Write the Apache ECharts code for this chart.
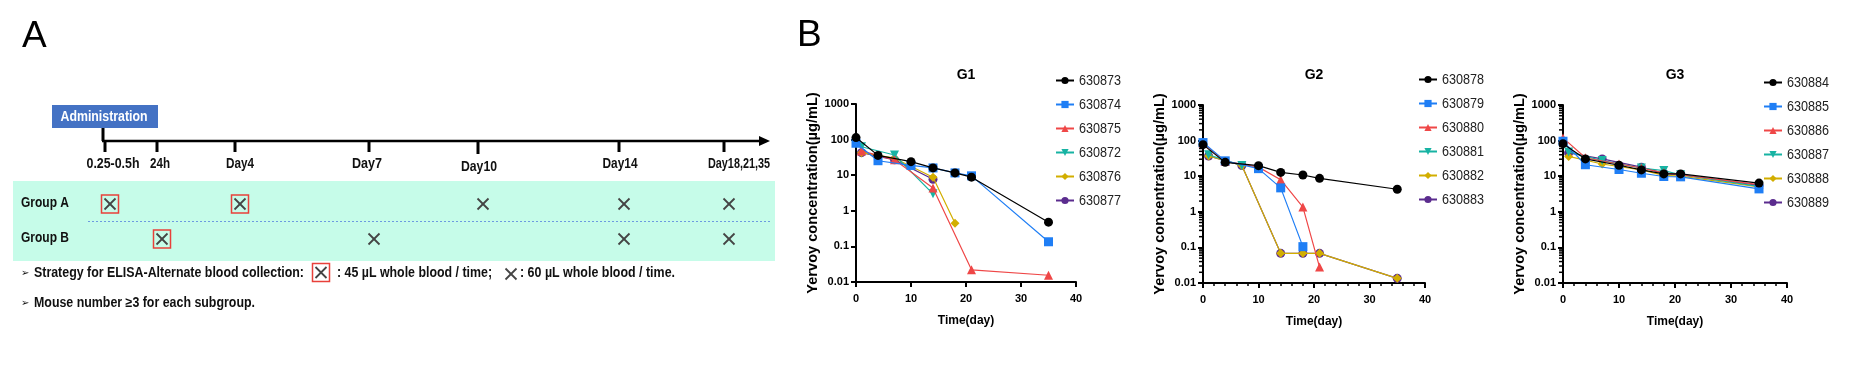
<!DOCTYPE html>
<html><head><meta charset="utf-8">
<script src="https://cdn.jsdelivr.net/npm/echarts@6/dist/echarts.min.js"></script>
<style>html,body{margin:0;padding:0;background:#fff}#c{width:1865px;height:375px}</style>
</head><body><div id="c"></div><script>
// ---------------- DATA ----------------
// Panel A schedule
const timepointLabels = ['0.25-0.5h', '24h', 'Day4', 'Day7', 'Day10', 'Day14', 'Day18,21,35'];
const groupNames = ['Group A', 'Group B'];
// '45' = boxed mark (45 µL), '60' = plain mark (60 µL), '' = no sampling
const groupASchedule = ['45', '', '45', '', '60', '60', '60'];
const groupBSchedule = ['', '45', '', '60', '', '60', '60'];
const noteLine1 = ['Strategy for ELISA-Alternate blood collection:', ': 45 µL whole blood / time;', ': 60 µL whole blood / time.'];
const noteLine2 = 'Mouse number ≥3 for each subgroup.';

// Panel B (days, concentration µg/mL)
const groupTitles = ['G1', 'G2', 'G3'];
const g1Names = ['630873', '630874', '630875', '630872', '630876', '630877'];
const g1Days = [[0,4,10,14,18,21,35],[0,4,10,14,18,21,35],[1,7,14,21,35],[1,7,14],[1,7,14,18],[1,7,14]];
const g1Conc = [[114,36,24,16,11.6,8.8,0.48],[79,25.5,18.8,16,11.6,9.6,0.135],[48,27,4.4,0.022,0.0155],[63,37,3.0],[43,30,8.8,0.45],[43,27,7.7]];
const g2Names = ['630878', '630879', '630880', '630881', '630882', '630883'];
const g2Days = [[0,4,10,14,18,21,35],[0,4,10,14,18],[0,4,10,14,18,21],[1,7],[1,7,14,18,21,35],[1,7,14,18,21,35]];
const g2Conc = [[77,24.5,19.8,12.8,10.8,8.7,4.3],[88,27,16.3,4.7,0.105],[85,26,18,8.0,1.36,0.028],[40,20],[37,20,0.068,0.068,0.068,0.0135],[37,20,0.068,0.068,0.068,0.0135]];
const g3Names = ['630884', '630885', '630886', '630887', '630888', '630889'];
const g3Days = [[0,4,10,14,18,21,35],[0,4,10,14,18,21,35],[0,4,10,14,18,21,35],[1,7,14,18,21,35],[1,7,14,18,21,35],[1,7,14,18,21,35]];
const g3Conc = [[82,30.6,20.3,15,11.6,11.6,6.4],[96,21,15.4,12.1,9.8,9.6,4.4],[119,33,22,17,12.5,11,5.8],[48,27.5,17,14.4,11,5.2],[36,22,15,10.5,10,5],[45,30.6,17.9,12,11,5.5]];
const logMinorMultipliers = [2,3,4,5,6,7,8,9];
const logDecades = [0.01, 0.1, 1, 10, 100];

// ---------------- STYLE / LAYOUT ----------------
const colors = ['#000000', '#1F7EF5', '#EF4747', '#17B3A3', '#D2AE00', '#5B2C8E'];
const symbols = ['circle', 'rect', 'triangle', 'triangle', 'diamond', 'circle'];
const symbolRot = [0, 0, 0, 180, 0, 0];
const symbolSizes = [9, 9, 9, 9, 9, 9];
const grids = [
  {left: 856, top: 104, width: 220, height: 178},
  {left: 1203, top: 105, width: 222, height: 178},
  {left: 1563, top: 105, width: 224, height: 178}
];
const legendPos = [{left: 1055, top: 73}, {left: 1418, top: 72}, {left: 1763, top: 75}];
const minorOn = [false, true, true];
const timelineX = [105, 157, 235, 369, 478, 619, 724];
const timelineLabelCx = [113, 160, 240, 367, 479, 620, 739];
const timelineLabelW = [53, 20, 28, 30, 36, 35, 62];

const groups = [
  {names: g1Names, days: g1Days, conc: g1Conc},
  {names: g2Names, days: g2Days, conc: g2Conc},
  {names: g3Names, days: g3Days, conc: g3Conc}
];
const logMinorTicks = [];
logDecades.forEach(d => logMinorMultipliers.forEach(m => logMinorTicks.push(+(d * m).toPrecision(2))));

const AX = '#000';
const numFont = '"Liberation Sans", Arial, sans-serif';

// ---------------- PANEL A helpers ----------------
const G = [];
const mctx = document.createElement('canvas').getContext('2d');
function fitText(text, x, y, size, targetW, align, fill, weight) {
  const font = (weight || 'bold') + ' ' + size + 'px ' + numFont;
  mctx.font = font;
  const w = mctx.measureText(text).width;
  G.push({type: 'text', x: x, y: y, scaleX: targetW / w, z: 10,
    style: {text: text, x: 0, y: 0, font: font, fill: fill || '#111', align: align || 'left', verticalAlign: 'middle'}});
}

const xAxes = [], yAxes = [], series = [], legends = [], titles = [];
groups.forEach((g, gi) => {
  xAxes.push({
    gridIndex: gi, type: 'value', min: 0, max: 40, interval: 10,
    axisLine: {show: true, onZero: false, lineStyle: {color: AX, width: 2}},
    axisTick: {show: true, length: 5, lineStyle: {color: AX, width: 2}},
    minorTick: {show: minorOn[gi], splitNumber: 5, length: 3, lineStyle: {color: AX, width: 1.5}},
    splitLine: {show: false},
    axisLabel: {color: '#000', fontWeight: 'bold', fontSize: 11, fontFamily: numFont, margin: 11},
    name: 'Time(day)', nameLocation: 'middle', nameGap: 33,
    nameTextStyle: {color: '#000', fontWeight: 'bold', fontSize: 12, fontFamily: numFont}
  });
  yAxes.push({
    gridIndex: gi, type: 'log', logBase: 10, min: 0.01, max: 1000,
    axisLine: {show: true, onZero: false, lineStyle: {color: AX, width: 2}},
    axisTick: {show: true, length: 5, lineStyle: {color: AX, width: 2}},
    splitLine: {show: false},
    axisLabel: {color: '#000', fontWeight: 'bold', fontSize: 11, fontFamily: numFont, margin: 7,
      formatter: v => String(+(+v).toPrecision(1))},
    name: 'Yervoy concentration(µg/mL)', nameLocation: 'middle', nameGap: 36,
    nameTextStyle: {color: '#000', fontWeight: 'bold', fontSize: 14.6, fontFamily: numFont}
  });
  g.names.forEach((n, si) => {
    series.push({
      name: n, type: 'line', xAxisIndex: gi, yAxisIndex: gi,
      data: g.days[si].map((d, k) => [d, g.conc[si][k]]),
      symbol: symbols[si], symbolRotate: symbolRot[si], symbolSize: symbolSizes[si],
      showAllSymbol: true,
      z: 20 - si,
      lineStyle: {color: colors[si], width: 1.2},
      itemStyle: {color: colors[si], borderWidth: 0},
      emphasis: {disabled: true}, animation: false
    });
    // legend label (narrow-looking text drawn next to the legend icon)
    fitText(n, legendPos[gi].left + 24, legendPos[gi].top + 7.5 + si * 24, 15.5, 42, 'left', '#222', 'normal');
  });
  if (minorOn[gi]) {
    series.push({
      type: 'custom', xAxisIndex: gi, yAxisIndex: gi, silent: true, clip: false, z: 1,
      data: logMinorTicks.map(v => [0, v]), animation: false,
      renderItem: (params, api) => {
        const p = api.coord([0, api.value(1)]);
        return {type: 'line', shape: {x1: p[0] - 1, y1: p[1], x2: p[0] - 4, y2: p[1]},
          style: {stroke: '#000', lineWidth: 1.5}};
      }
    });
  }
  legends.push({
    orient: 'vertical', left: legendPos[gi].left, top: legendPos[gi].top,
    data: g.names, itemWidth: 18, itemHeight: 9, itemGap: 9, padding: 0,
    selectedMode: false,
    textStyle: {fontFamily: numFont, fontSize: 13, color: 'rgba(0,0,0,0)', lineHeight: 15}
  });
  titles.push({
    text: groupTitles[gi], left: grids[gi].left + grids[gi].width / 2, top: 68, padding: 0, textAlign: 'center',
    textStyle: {fontFamily: numFont, fontWeight: 'bold', fontSize: 14, color: '#000'}
  });
});

// ---------------- PANEL A (schematic) ----------------
G.push({type: 'text', style: {text: 'A', x: 22, y: 37, font: '37px "Liberation Sans", Arial, sans-serif', fill: '#000', verticalAlign: 'middle'}});
G.push({type: 'text', style: {text: 'B', x: 797, y: 36, font: '37px "Liberation Sans", Arial, sans-serif', fill: '#000', verticalAlign: 'middle'}});
// band
G.push({type: 'rect', shape: {x: 13, y: 181, width: 762, height: 80}, style: {fill: '#C6FCE9'}, z: 0});
G.push({type: 'line', shape: {x1: 88, y1: 221.5, x2: 772, y2: 221.5}, style: {stroke: '#6C9BE0', lineWidth: 1, lineDash: [2, 2]}});
// administration box
G.push({type: 'rect', shape: {x: 52, y: 105, width: 106, height: 23}, style: {fill: '#4472C4'}});
fitText('Administration', 104, 117, 14, 87, 'center', '#fff');
G.push({type: 'line', shape: {x1: 103, y1: 128, x2: 103, y2: 141}, style: {stroke: '#000', lineWidth: 3}});
G.push({type: 'line', shape: {x1: 102, y1: 141, x2: 762, y2: 141}, style: {stroke: '#000', lineWidth: 2.5}});
G.push({type: 'polygon', shape: {points: [[770, 141], [759, 136], [759, 146]]}, style: {fill: '#000'}});
timepointLabels.forEach((t, i) => {
  const x = timelineX[i];
  G.push({type: 'line', shape: {x1: x, y1: 141, x2: x, y2: 152 + (i === 4 ? 2 : 0)}, style: {stroke: '#000', lineWidth: 3}});
  fitText(t, timelineLabelCx[i], 164 + (i === 4 ? 3 : 0), 14, timelineLabelW[i], 'center');
});
function mark(x, y, boxed) {
  const s = 5.5;
  G.push({type: 'line', shape: {x1: x - s, y1: y - s, x2: x + s, y2: y + s}, style: {stroke: '#444', lineWidth: 1.8}});
  G.push({type: 'line', shape: {x1: x - s, y1: y + s, x2: x + s, y2: y - s}, style: {stroke: '#444', lineWidth: 1.8}});
  if (boxed) G.push({type: 'rect', shape: {x: x - 8.5, y: y - 9, width: 17, height: 18}, style: {fill: 'none', stroke: '#E8403A', lineWidth: 1.5}});
}
const rowY = [204, 239];
[groupASchedule, groupBSchedule].forEach((sch, r) => {
  fitText(groupNames[r], 21, rowY[r] - 1, 14.5, 48, 'left');
  sch.forEach((v, i) => { if (v) mark(timelineX[i] + 5, rowY[r], v === '45'); });
});
// notes
G.push({type: 'text', style: {text: '➢', x: 21, y: 273, verticalAlign: 'middle', font: '10px "DejaVu Sans", sans-serif', fill: '#111'}});
fitText(noteLine1[0], 34, 273, 14, 270, 'left');
mark(321, 272.5, true);
fitText(noteLine1[1], 337, 273, 14, 155, 'left');
mark(511, 274, false);
fitText(noteLine1[2], 520, 273, 14, 155, 'left');
G.push({type: 'text', style: {text: '➢', x: 21, y: 303, verticalAlign: 'middle', font: '10px "DejaVu Sans", sans-serif', fill: '#111'}});
fitText(noteLine2, 34, 303, 14, 221, 'left');

const chart = echarts.init(document.getElementById('c'), null, {renderer: 'canvas'});
chart.setOption({
  backgroundColor: '#fff', animation: false,
  title: titles, grid: grids, xAxis: xAxes, yAxis: yAxes, legend: legends, series: series,
  graphic: {elements: G}
});
</script></body></html>
